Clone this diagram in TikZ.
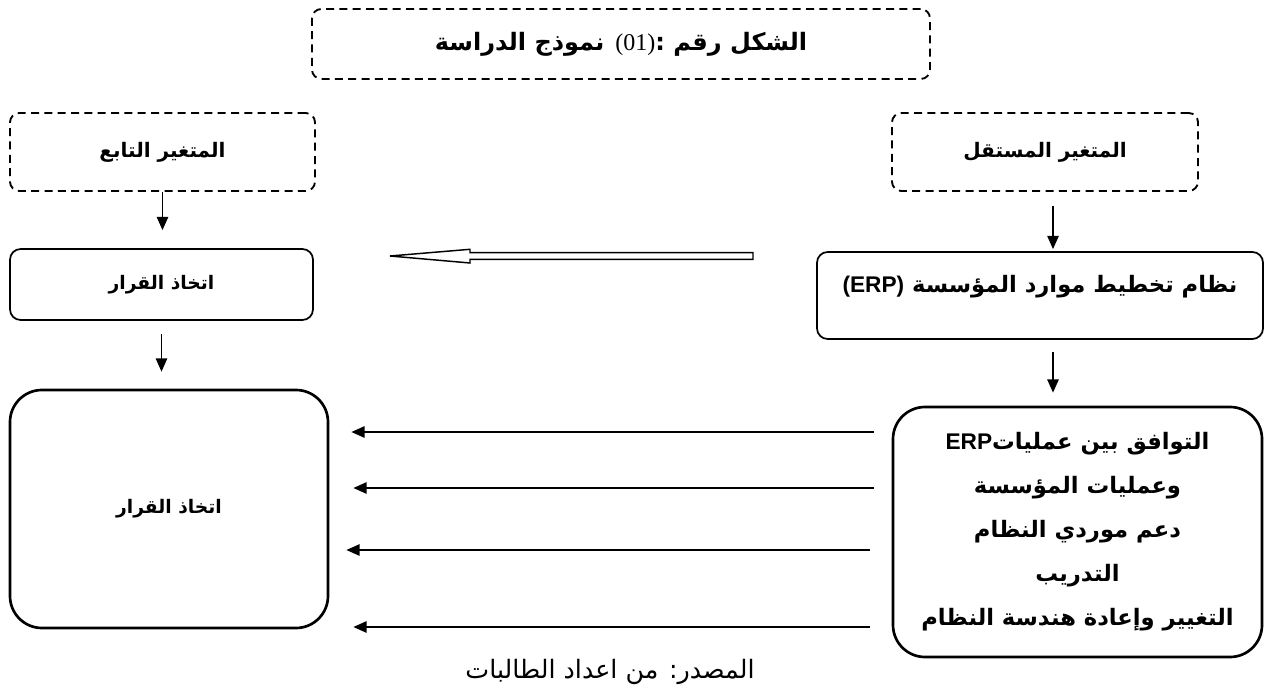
\documentclass[tikz,border=0pt]{standalone}
\usepackage{fontspec}
\setmainfont{DejaVu Sans}
\newfontfamily\arabicfont[Script=Arabic]{DejaVu Sans}
\newfontfamily\latinfont{Liberation Sans}
\newfontfamily\numfont{Liberation Serif}
\TeXXeTstate=1
\usepackage{tikz}
\usetikzlibrary{arrows.meta,positioning,calc}

\begin{document}
\begin{tikzpicture}[
  x=0.75pt, y=-0.75pt,
  font=\arabicfont\fontsize{15}{18}\selectfont\bfseries,
  dashbox/.style={draw, line width=1.4pt, dash pattern=on 6pt off 4pt, rounded corners=7pt, align=center, inner sep=0pt},
  box/.style={draw, line width=1.3pt, rounded corners=8pt, align=center, inner sep=0pt},
  bigbox/.style={draw, line width=2pt, rounded corners=24pt, align=center, inner sep=0pt},
  arr/.style={-{Triangle[length=10pt,width=8.5pt]}, line width=1.4pt}]
  \useasboundingbox (0,0) rectangle (1266,695);
  % title
  \node[dashbox, minimum width=463.5pt, minimum height=52.5pt, font=\arabicfont\fontsize{18}{20}\selectfont\bfseries] (title) at (621,44)
    {\beginR الشكل رقم \beginL{\numfont\mdseries(01)}:\endL{} نموذج الدراسة\endR};
  % row 1: the two variables
  \node[dashbox, minimum width=228.75pt, minimum height=58.5pt] (tabi) at (162.5,152) {\beginR المتغير التابع\endR};
  \node[dashbox, minimum width=229.5pt, minimum height=58.5pt] (mustaqil) at (1045,152) {\beginR المتغير المستقل\endR};
  % row 2
  \node[box, minimum width=227.25pt, minimum height=53.25pt, font=\arabicfont\fontsize{14}{16}\selectfont\bfseries] (qarar) at (161.5,284.5) {\beginR اتخاذ القرار\endR};
  \node[box, minimum width=334.5pt, minimum height=65.25pt, text height=12pt, text depth=17pt,
        font=\arabicfont\fontsize{17}{20}\selectfont\bfseries] (erp) at (1040,295.5)
    {\beginR نظام تخطيط موارد المؤسسة \beginL{\latinfont(ERP)}\endL\endR};
  % row 3: dimensions
  \node[bigbox, minimum width=238.5pt, minimum height=178.5pt, font=\arabicfont\fontsize{14}{16}\selectfont\bfseries] (qarar2) at (169,509) {\beginR اتخاذ القرار\endR};
  \node[bigbox, minimum width=276.75pt, minimum height=187.5pt,
        font=\arabicfont\fontsize{17}{33}\selectfont\bfseries] (ibaad) at (1077.5,532)
    {\beginR التوافق بين عمليات\beginL{\latinfont ERP}\endL\endR\\
     \beginR وعمليات المؤسسة\endR\\
     \beginR دعم موردي النظام\endR\\
     \beginR التدريب\endR\\
     \beginR التغيير وإعادة هندسة النظام\endR};
  \node[font=\arabicfont\fontsize{19}{22}\selectfont\mdseries] (source) at (610,672) {\beginR المصدر: من اعداد الطالبات\endR};
  % vertical flow
  \draw[arr, shorten >=13.5pt] (tabi.south) -- (tabi.south |- qarar.north);
  \draw[arr, shorten <=10.5pt, shorten >=1.5pt] ([xshift=6pt]mustaqil.south) -- ([xshift=6pt]mustaqil.south |- erp.north);
  \draw[arr, shorten <=9.75pt, shorten >=12.75pt] (qarar.south) -- (qarar.south |- qarar2.north);
  \draw[arr, shorten <=9pt, shorten >=9.75pt] ([xshift=9.75pt]erp.south) -- ([xshift=9.75pt]erp.south |- ibaad.north);
  % hollow arrow between the two rows
  \coordinate (hs) at (753,256);
  \coordinate (ht) at (390,256);
  \draw[line width=1.1pt, fill=white] (hs) ++(0,-3.3) -- ++(-283,0) -- ++(0,-3.4) -- (ht) -- ++(80,7) -- ++(0,-3.7) -- ++(283,0) -- cycle;
  % dimensions to decision
  \foreach \y/\a/\b in {432/13.5/16.5, 488/13.5/18, 550/16.5/12.75, 627/16.5/18}
    \draw[arr, shorten <=\a pt, shorten >=\b pt] (ibaad.west |- 0,\y) -- (qarar2.east |- 0,\y);
\end{tikzpicture}
\end{document}
